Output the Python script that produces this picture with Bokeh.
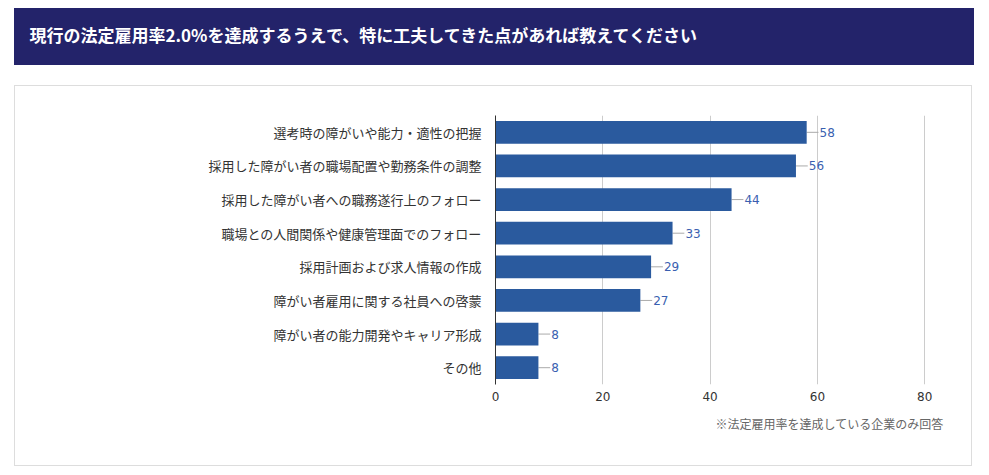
from bokeh.plotting import figure
from bokeh.layouts import column, row
from bokeh.models import (Range1d, FactorRange, FixedTicker, Title, Spacer,
                          ColumnDataSource)
from bokeh.core.properties import value
from bokeh.embed import file_html
from bokeh.resources import INLINE

title_text = "現行の法定雇用率2.0%を達成するうえで、特に工夫してきた点があれば教えてください"
note_text = "※法定雇用率を達成している企業のみ回答"

categories = [
    "選考時の障がいや能力・適性の把握",
    "採用した障がい者の職場配置や勤務条件の調整",
    "採用した障がい者への職務遂行上のフォロー",
    "職場との人間関係や健康管理面でのフォロー",
    "採用計画および求人情報の作成",
    "障がい者雇用に関する社員への啓蒙",
    "障がい者の能力開発やキャリア形成",
    "その他",
]
values = [58, 56, 44, 33, 29, 27, 8, 8]
x_ticks = [0, 20, 40, 60, 80]

JP = "Noto Sans CJK JP"
NAVY = "#23236a"
BAR = "#2a5a9e"

# ---- banner ----
banner = figure(width=960, height=57, x_range=Range1d(0, 1), y_range=Range1d(0, 1),
                x_axis_type=None, y_axis_type=None, toolbar_location=None,
                output_backend="svg", min_border_left=480, min_border_right=30,
                min_border_top=40, min_border_bottom=0,
                background_fill_alpha=0, border_fill_alpha=0,
                outline_line_color=None,
                styles={"background-color": NAVY})
banner.grid.visible = False
banner.title = Title(text=title_text, align="left", offset=-465, standoff=3,
                     text_color="white", text_font=JP, text_font_style="bold",
                     text_font_size="17px")

# ---- chart ----
src = ColumnDataSource(dict(cat=categories, val=values,
                            lab=[str(v) for v in values],
                            lead=[v + 2.2 for v in values],
                            tx=[v + 2.4 for v in values]))

p = figure(width=958, height=381, y_range=FactorRange(*reversed(categories)),
           x_range=Range1d(0, 83.5), toolbar_location=None, output_backend="svg",
           min_border_left=479, min_border_right=29, min_border_top=29,
           min_border_bottom=83, outline_line_color=None,
           background_fill_color="white", border_fill_color="white",
           styles={"border": "1px solid #dddddd"})

p.segment(x0="val", x1="lead", y0="cat", y1="cat", source=src,
          line_color="#aaaaaa", line_width=1)
p.hbar(y="cat", right="val", left=0, height=0.68, source=src,
       fill_color=BAR, line_color=None)
p.text(x="tx", y="cat", text="lab", source=src, text_color="#3a5fb0",
       text_font_size="12px", text_baseline="middle", text_align="left",
       text_font=value("DejaVu Sans"))

p.xaxis.ticker = FixedTicker(ticks=x_ticks)
p.xaxis.axis_line_color = None
p.xaxis.major_tick_line_color = None
p.xaxis.major_tick_out = 0
p.xaxis.minor_tick_line_color = None
p.xaxis.major_label_text_font = "DejaVu Sans"
p.xaxis.major_label_text_font_size = "12px"
p.xaxis.major_label_text_color = "#333333"
p.xaxis.major_label_standoff = 7

p.yaxis.axis_line_color = "#333333"
p.yaxis.major_tick_line_color = None
p.yaxis.major_tick_out = 0
p.yaxis.minor_tick_line_color = None
p.yaxis.major_label_text_font = JP
p.yaxis.major_label_text_font_size = "13px"
p.yaxis.major_label_text_color = "#333333"
p.yaxis.major_label_standoff = 14

p.xgrid.grid_line_color = "#cccccc"
p.ygrid.grid_line_color = None

p.add_layout(Title(text=note_text, align="right", text_font=JP,
                   text_font_size="12px", text_font_style="normal",
                   text_color="#666666", standoff=19), "below")

layout = row(Spacer(width=14),
             column(Spacer(height=8), banner, Spacer(height=20), p))
open("out.html", "w").write(file_html(layout, INLINE))
